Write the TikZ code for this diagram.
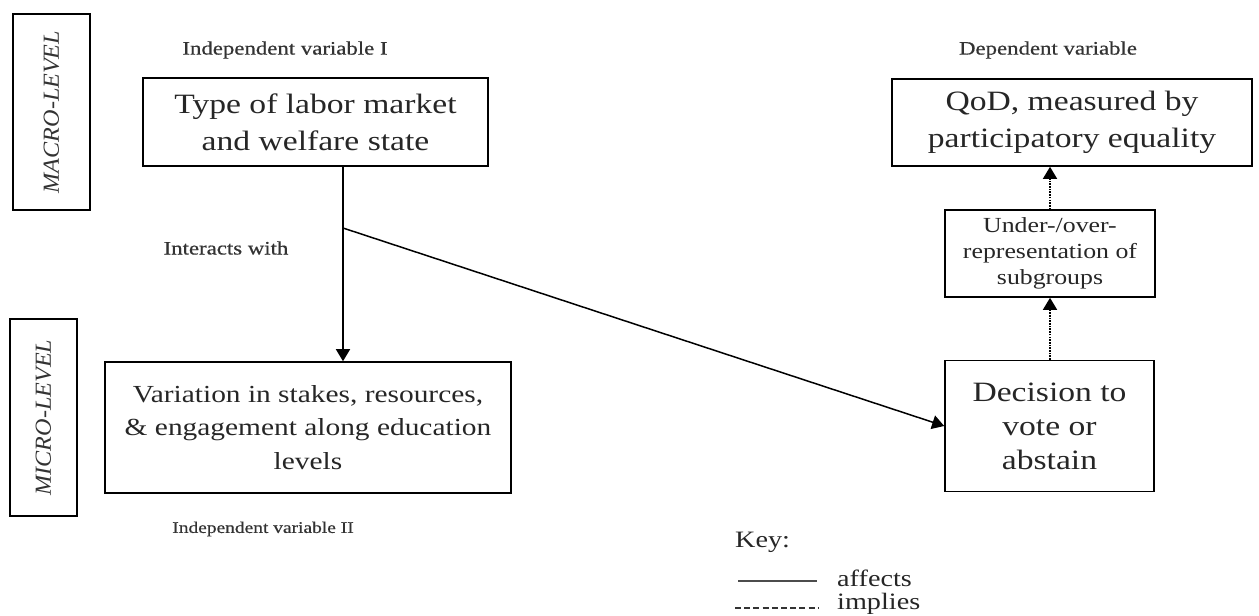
\documentclass[tikz,border=0pt]{standalone}
\usepackage{fontspec}
\setmainfont{Liberation Serif}[FakeStretch=1.2]
\newfontfamily\lvlfont{Liberation Serif}[FakeStretch=1.05]
\newfontfamily\lblfont{Liberation Serif}[FakeStretch=1.2,FakeBold=0.6]
\usetikzlibrary{arrows.meta}
\begin{document}
\begin{tikzpicture}[x=1pt,y=-1pt,
  box/.style={draw, line width=1.6pt, align=center, inner sep=0pt, text=black!85},
  lbl/.style={font=\lblfont\fontsize{19}{22}\selectfont, text=black!80},
  lvl/.style={draw, line width=1.6pt, inner sep=0pt, font=\lvlfont\itshape\fontsize{23}{26}\selectfont, text=black!80},
  conn/.style={line width=1.5pt, -{Triangle[length=12pt,width=14pt]}},
  dotconn/.style={line width=1.5pt, dash pattern=on 1.6pt off 1.1pt, -{Triangle[length=12pt,width=14pt]}},
  keytxt/.style={font=\fontsize{23.5}{26}\selectfont, anchor=west, inner sep=0pt, text=black!85}
]
\useasboundingbox (0,0) rectangle (1259,616);
% level labels
\node[lvl, minimum width=196pt, minimum height=77pt, rotate=90] (macro) at (51.5,112) {MACRO-LEVEL};
\node[lvl, minimum width=197pt, minimum height=67pt, rotate=90] (micro) at (43.5,417.5) {MICRO-LEVEL};
% boxes
\node[box, font=\fontsize{28}{37}\selectfont, minimum width=345pt, minimum height=88pt] (type) at (315.5,122) {Type of labor market\\and welfare state};
\node[box, font=\fontsize{24.5}{33.5}\selectfont, minimum width=406pt, minimum height=131pt] (var) at (308,427.5) {Variation in stakes, resources,\\\& engagement along education\\levels};
\node[box, font=\fontsize{28}{34}\selectfont, minimum width=209pt, minimum height=131pt] (dec) at (1049.5,426) {Decision to\\vote or\\abstain};
\node[box, font=\fontsize{21.5}{26}\selectfont, minimum width=210pt, minimum height=87pt] (under) at (1050,253.5) {Under-/over-\\representation of\\subgroups};
\node[box, font=\fontsize{28}{37}\selectfont, minimum width=360pt, minimum height=87pt] (qod) at (1072,122.5) {QoD, measured by\\participatory equality};
% labels
\node[lbl] (iv1) at (285,50) {Independent variable I};
\node[lbl, font=\lblfont\fontsize{16.2}{19}\selectfont] (iv2) at (263,529) {Independent variable II};
\node[lbl] (inter) at (226,248) {Interacts with};
\node[lbl] (dv) at (1048,50) {Dependent variable};
% connectors
\coordinate (j) at (343,228);
\coordinate (ux) at (1050,0);
\draw[line width=1.5pt] (type.south -| j) -- (j);
\draw[conn] (j) -- (var.north -| j);
\draw[conn] (j) -- (dec.west);
\draw[dotconn] (dec.north -| ux) -- (under.south -| ux);
\draw[dotconn] (under.north -| ux) -- (qod.south -| ux);
% key
\node[keytxt] (key) at (735,542) {Key:};
\coordinate (a1) at (738,581);
\coordinate (a2) at (817,581);
\coordinate (b1) at (735,608);
\coordinate (b2) at (818,608);
\draw[line width=1.5pt, black!70] (a1) -- (a2);
\draw[line width=1.3pt, black!80, dash pattern=on 6pt off 3.2pt] (b1) -- (b2);
\node[keytxt] (aff) at (837,578) {affects};
\node[keytxt] (imp) at (837,604) {implies};
\end{tikzpicture}
\end{document}
